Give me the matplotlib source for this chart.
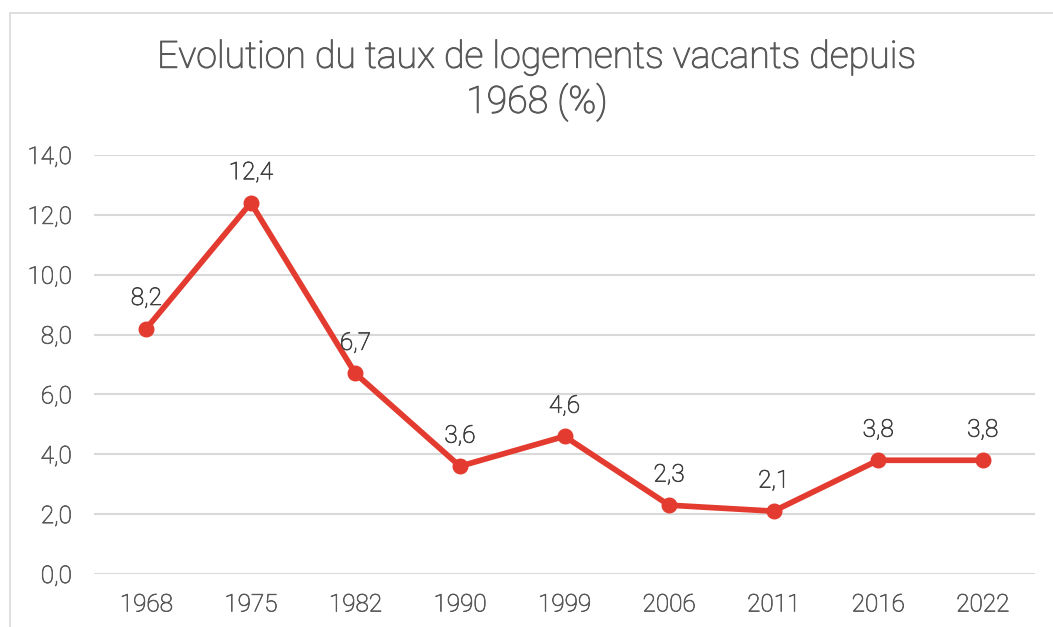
import matplotlib
matplotlib.use("Agg")
import matplotlib.pyplot as plt
import matplotlib.patheffects as pe
from matplotlib.patches import Rectangle

years = ["1968", "1975", "1982", "1990", "1999", "2006", "2011", "2016", "2022"]
taux = [8.2, 12.4, 6.7, 3.6, 4.6, 2.3, 2.1, 3.8, 3.8]
y_ticks = [0, 2, 4, 6, 8, 10, 12, 14]

plt.rcParams['font.family'] = ['Roboto', 'DejaVu Sans']
plt.rcParams['font.weight'] = 'light'

W, H = 1053, 627
fig = plt.figure(figsize=(W / 100, H / 100), dpi=100)


def thicken(color, w):
    # the installed light face is a bit thinner than the reference, so stroke it slightly
    return [pe.withStroke(linewidth=w, foreground=color)]


# outer chart frame (cut at right / bottom like the screenshot)
fig.patches.append(Rectangle((10 / W, -0.1), 1.2, 1 - 13 / H + 0.1, transform=fig.transFigure,
                             fill=False, edgecolor='#d9d9d9', lw=1.2))

ax = fig.add_axes([94 / W, 1 - 574 / H, (1035 - 94) / W, (574 - 155) / H])
x = list(range(len(years)))
ax.plot(x, taux, color='#e33b2f', lw=4.1, marker='o', markersize=10.5, solid_capstyle='round',
        solid_joinstyle='round', zorder=3)
for xi, v in zip(x, taux):
    ax.annotate(("%.1f" % v).replace('.', ','), (xi, v), xytext=(0, 17), textcoords='offset points',
                ha='center', va='baseline', fontsize=17.5, color='#404040',
                path_effects=thicken('#404040', 0.5))

ax.set_xlim(-0.5, len(years) - 0.5)
ax.set_ylim(0, 14)
ax.set_xticks(x)
ax.set_xticklabels(years)
ax.set_yticks(y_ticks)
ax.set_yticklabels([("%.1f" % t).replace('.', ',') for t in y_ticks])
ax.tick_params(length=0, labelsize=17.5, labelcolor='#595959')
ax.tick_params(axis='x', pad=14)
ax.tick_params(axis='y', pad=16)
for lab in ax.get_xticklabels() + ax.get_yticklabels():
    lab.set_path_effects(thicken('#595959', 0.5))
ax.grid(axis='y', color='#d9d9d9', lw=1.5)
ax.set_axisbelow(True)
for s in ax.spines.values():
    s.set_visible(False)

fig.text(537 / W, 1 - 80 / H, "Evolution du taux de logements vacants depuis\n1968 (%)",
         ha='center', va='center', fontsize=27, color='#595959', linespacing=1.2,
         path_effects=thicken('#595959', 0.7))

fig.savefig("out.png", dpi=100)
